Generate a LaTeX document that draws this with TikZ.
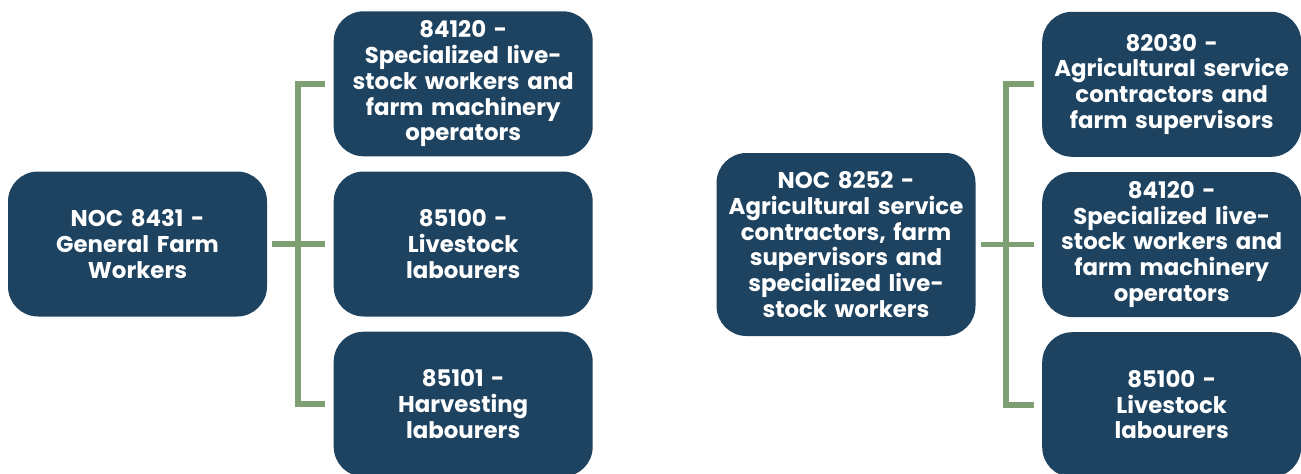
\documentclass[tikz,border=0pt]{standalone}
\usepackage{fontspec}
\setmainfont{Poppins}
\usepackage{tikz}
\usetikzlibrary{positioning,calc}
\usepackage{xcolor}
\definecolor{nocnavy}{HTML}{1D4361}
\definecolor{nocgreen}{HTML}{7E9F71}

\begin{document}
\begin{tikzpicture}[
  node distance=0.29cm and 1.32cm,
  every node/.style={font=\bfseries\fontsize{13pt}{14.7pt}\selectfont},
  nocbox/.style={fill=nocnavy, text=white, rounded corners=0.6cm,
    minimum width=5.18cm, minimum height=2.9cm, align=center,
    text width=5cm, inner sep=0pt},
  bracket/.style={draw=nocgreen, line width=3.4pt}]
\useasboundingbox (0,0) rectangle (26.02,-9.46);
% left group
\node[nocbox] (l0) at (2.75,-4.88) {NOC 8431 -\\General Farm\\Workers};
\node[nocbox, right=of l0] (l2) {85100 -\\Livestock\\labourers};
\node[nocbox, above=of l2] (l1)
  {84120 -\\Specialized live-\\stock workers and\\farm machinery\\operators};
\node[nocbox, below=of l2] (l3) {85101 -\\Harvesting\\labourers};
% right group
\node[nocbox, minimum height=3.66cm] (r0) at (16.92,-4.89)
  {NOC 8252 -\\Agricultural service\\contractors, farm\\supervisors and\\specialized live-\\stock workers};
\node[nocbox, right=of r0] (r2)
  {84120 -\\Specialized live-\\stock workers and\\farm machinery\\operators};
\node[nocbox, above=of r2] (r1)
  {82030 -\\Agricultural service\\contractors and\\farm supervisors};
\node[nocbox, below=of r2] (r3) {85100 -\\Livestock\\labourers};
\foreach \g in {l,r} {
  \coordinate (\g bar) at ($(\g0.east)!0.46!(\g2.west)$);
  \draw[bracket, shorten <=0.1cm, shorten >=0.16cm] (\g0) -- (\g2);
  \draw[bracket] ([xshift=-0.16cm]\g1.west) -| (\g bar) |- ([xshift=-0.16cm]\g3.west);}
\end{tikzpicture}
\end{document}
